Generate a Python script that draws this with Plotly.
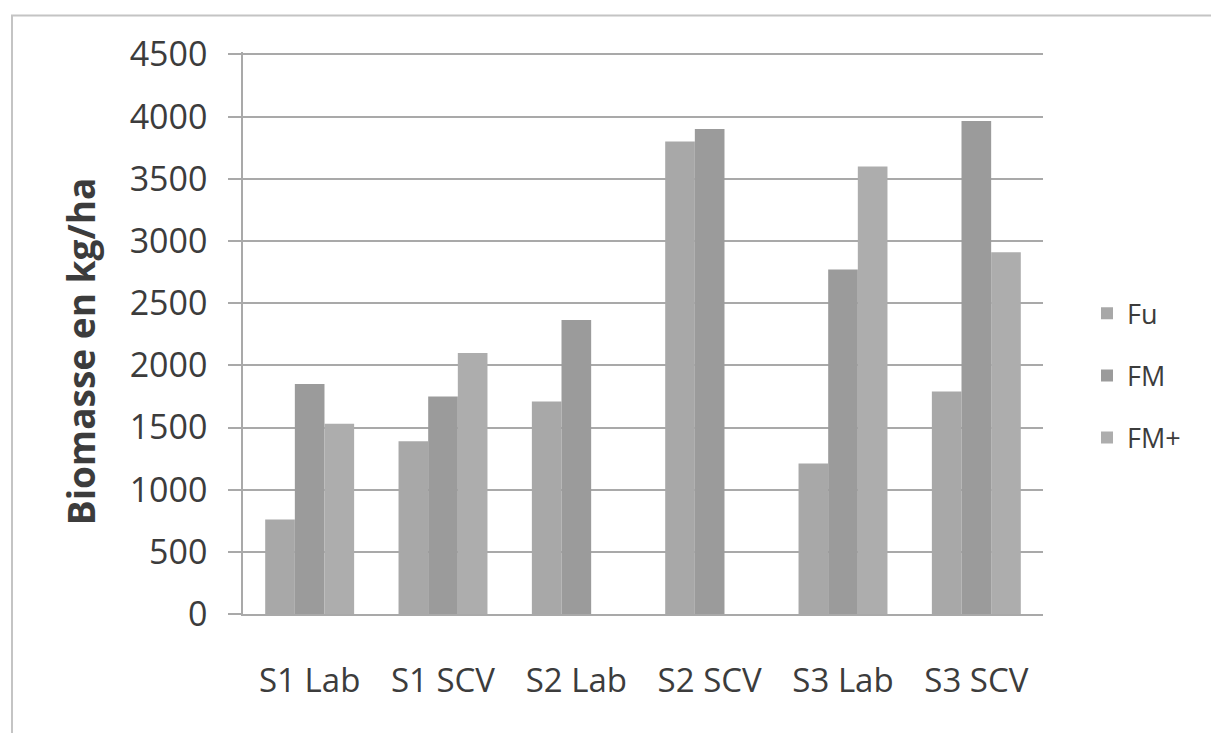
import plotly.graph_objects as go

categories = ["S1 Lab", "S1 SCV", "S2 Lab", "S2 SCV", "S3 Lab", "S3 SCV"]
fu = [760, 1390, 1710, 3800, 1210, 1790]
fm = [1850, 1750, 2365, 3900, 2770, 3965]
fm_plus = [1530, 2100, None, None, 3600, 2910]

series_names = ["Fu", "FM", "FM+"]
series_values = [fu, fm, fm_plus]
series_colors = ["#a8a8a8", "#9b9b9b", "#adadad"]

text_color = "#3c3c3c"
grid_color = "#a9a9a9"
font_family = "Open Sans, Liberation Sans, sans-serif"

fig = go.Figure()
for name, vals, col in zip(series_names, series_values, series_colors):
    fig.add_trace(go.Bar(
        x=categories, y=vals, name=name,
        marker=dict(color=col, line=dict(width=0)),
        legendgroup=name,
    ))

# plot area in pixels: x 243..1043, bottom at y 614; range top a bit above 4500 so its gridline shows
y_top = 4520
L, R, B = 243, 1211 - 1043, 733 - 614
H = 560 * y_top / 4500
T = 614 - H
W = 1043 - 243

def px_x(p):
    return (p - L) / W

def px_y(p):
    return (614 - p) / H

fig.update_layout(
    width=1211, height=733,
    margin=dict(l=L, r=R, t=T, b=B),
    paper_bgcolor="white", plot_bgcolor="white",
    barmode="group", bargap=0.333, bargroupgap=0,
    font=dict(family=font_family, color=text_color),
    showlegend=True,
    legend=dict(
        x=px_x(1087), xanchor="left", y=px_y(289), yanchor="top",
        font=dict(size=27, color=text_color),
        tracegroupgap=24, itemwidth=30,
        bgcolor="rgba(0,0,0,0)",
    ),
    xaxis=dict(
        range=[-0.5, 5.5],
        showline=True, linecolor=grid_color, linewidth=1.5,
        ticks="", showgrid=False,
        tickfont=dict(size=33, color=text_color),
        ticklabelstandoff=37,
    ),
    yaxis=dict(
        range=[0, y_top], dtick=500, tick0=0,
        showgrid=True, gridcolor=grid_color, gridwidth=1.5,
        showline=True, linecolor=grid_color, linewidth=1.5,
        ticks="outside", ticklen=13, tickcolor=grid_color, tickwidth=1.5,
        tickfont=dict(size=34, color=text_color),
        ticklabelstandoff=14,
        zeroline=False,
    ),
    annotations=[
        dict(text="<b>Biomasse en kg/ha</b>", xref="paper", yref="paper",
             x=px_x(80), y=px_y(351), xanchor="center", yanchor="middle",
             textangle=-90, showarrow=False,
             font=dict(size=37, color=text_color)),
    ],
    shapes=[
        dict(type="rect", xref="paper", yref="paper",
             x0=px_x(12), x1=px_x(1400), y0=px_y(800), y1=px_y(15),
             line=dict(color="#c4c4c4", width=2), fillcolor="rgba(0,0,0,0)", layer="below"),
    ],
)

fig.write_html("out.html")
